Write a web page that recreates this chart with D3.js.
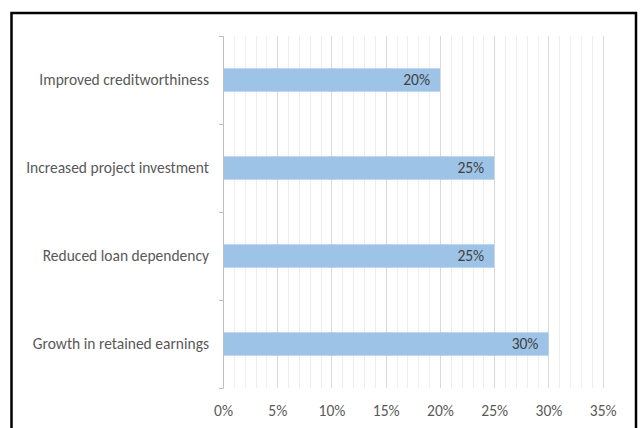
<!DOCTYPE html>
<html>
<head>
<meta charset="utf-8">
<script src="https://cdn.jsdelivr.net/npm/d3@7"></script>
<style>
  html, body { margin: 0; padding: 0; background: #fff; }
  svg { display: block; }
  text { font-family: Carlito, "Liberation Sans Narrow", "DejaVu Sans Condensed", "Open Sans", sans-serif; }
</style>
</head>
<body>
<svg id="chart" width="640" height="428"></svg>
<script>
// Survey outcomes, listed top to bottom
const categories = [
  "Improved creditworthiness",
  "Increased project investment",
  "Reduced loan dependency",
  "Growth in retained earnings"
];
const values = [20, 25, 25, 30];
const majorTicks = [0, 5, 10, 15, 20, 25, 30, 35];
const minorTicks = d3.range(0, 36, 1);

const svg = d3.select("#chart");
const W = 640, H = 428;
const margin = { left: 223, right: 37, top: 36, bottom: 40 };
const fontSize = 15.5;

const x = d3.scaleLinear().domain([0, 35]).range([margin.left, 602.7]);
const y = d3.scaleBand().domain(categories).range([margin.top, H - margin.bottom]).paddingInner(0.735).paddingOuter(0.3675);
const yEdges = d3.scaleBand().domain(categories).range([margin.top, H - margin.bottom]);

// frame
svg.append("rect").attr("x", 0).attr("y", 0).attr("width", W).attr("height", H).attr("fill", "#fff");
svg.append("rect")
  .attr("x", 11.5).attr("y", 13).attr("width", 624.5).attr("height", 430)
  .attr("fill", "none").attr("stroke", "#000").attr("stroke-width", 2.5);

const y0 = margin.top, y1 = H - margin.bottom;

// minor gridlines every 1%
svg.append("g")
  .selectAll("line")
  .data(minorTicks.filter(d => d % 5 !== 0))
  .join("line")
  .attr("x1", d => Math.round(x(d)) + 0.5).attr("x2", d => Math.round(x(d)) + 0.5)
  .attr("y1", y0).attr("y2", y1)
  .attr("stroke", "#eeeeee").attr("stroke-width", 1);

// major gridlines every 5%
svg.append("g")
  .selectAll("line")
  .data(majorTicks.filter(d => d > 0))
  .join("line")
  .attr("x1", d => Math.round(x(d)) + 0.5).attr("x2", d => Math.round(x(d)) + 0.5)
  .attr("y1", y0).attr("y2", y1)
  .attr("stroke", "#d9d9d9").attr("stroke-width", 1);

// bars
svg.append("g")
  .selectAll("rect")
  .data(categories)
  .join("rect")
  .attr("x", x(0))
  .attr("y", d => y(d))
  .attr("width", (d, i) => x(values[i]) - x(0))
  .attr("height", y.bandwidth())
  .attr("fill", "#9dc3e6");

// value labels inside bar ends
svg.append("g")
  .selectAll("text")
  .data(categories)
  .join("text")
  .attr("x", (d, i) => x(values[i]) - 10)
  .attr("y", d => y(d) + y.bandwidth() / 2)
  .attr("dy", "0.35em")
  .attr("text-anchor", "end")
  .attr("font-size", fontSize)
  .attr("fill", "#404040")
  .text((d, i) => values[i] + "%");

// category axis with ticks at band edges
const yAxis = svg.append("g");
yAxis.append("line")
  .attr("x1", Math.round(x(0)) + 0.5).attr("x2", Math.round(x(0)) + 0.5)
  .attr("y1", y0).attr("y2", y1)
  .attr("stroke", "#bfbfbf");
const edges = categories.map(d => yEdges(d)).concat([y1]);
yAxis.selectAll("line.tick")
  .data(edges)
  .join("line")
  .attr("class", "tick")
  .attr("x1", Math.round(x(0)) - 4).attr("x2", Math.round(x(0)) + 0.5)
  .attr("y1", d => Math.round(d) + 0.5).attr("y2", d => Math.round(d) + 0.5)
  .attr("stroke", "#bfbfbf");
yAxis.selectAll("text")
  .data(categories)
  .join("text")
  .attr("x", 209)
  .attr("y", d => yEdges(d) + yEdges.bandwidth() / 2)
  .attr("dy", "0.35em")
  .attr("text-anchor", "end")
  .attr("font-size", fontSize)
  .attr("fill", "#595959")
  .text(d => d);

// value axis labels
const xAxis = d3.axisBottom(x).tickValues(majorTicks).tickFormat(d => d + "%").tickSize(0).tickPadding(0);
const gx = svg.append("g").attr("transform", `translate(0, ${y1 + 23})`).call(xAxis);
gx.select(".domain").remove();
gx.selectAll("text")
  .attr("font-size", fontSize)
  .attr("fill", "#595959")
  .attr("font-family", null)
  .attr("dy", "0.35em")
  .attr("y", 0);
</script>
</body>
</html>
